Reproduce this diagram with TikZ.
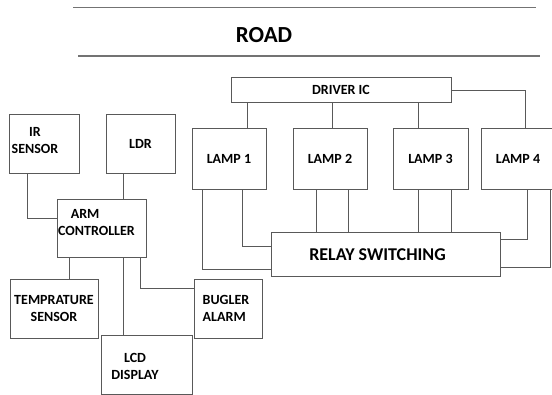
\documentclass[tikz,border=0pt]{standalone}
\usepackage{fontspec}
\setmainfont{Carlito}

\begin{document}
\begin{tikzpicture}[x=1pt, y=-1pt, font=\bfseries\fontsize{14}{17}\selectfont]
	% --- Stili ---
	\tikzset{
		box/.style={draw=black!65, line width=1pt, align=center, inner sep=0pt},
		wire/.style={draw=black!65, line width=1pt},
		roadline/.style={draw=black!55, line width=1.4pt},
		lbl/.style={align=center, inner sep=0pt}
	}
	\useasboundingbox (0,0) rectangle (552,394);
	
	% --- Strada ---
	\coordinate (roadTL) at (73,7.3);
	\coordinate (roadTR) at (536,7.3);
	\coordinate (roadBL) at (78,56);
	\coordinate (roadBR) at (540,56);
	\draw[roadline] (roadTL) -- (roadTR);
	\draw[roadline] (roadBL) -- (roadBR);
	\node[lbl, font=\bfseries\fontsize{23}{28}\selectfont] (road) at (264,35) {ROAD};
	
	% --- Blocchi sensori ---
	\node[box, minimum width=70, minimum height=59, label={[lbl, xshift=-9pt, yshift=3pt]center:IR\\SENSOR}] (ir) at (44,143.5) {};
	\node[box, minimum width=69, minimum height=59] (ldr) at (140.5,143.5) {LDR};
	\node[box, minimum width=89, minimum height=58, label={[lbl, align=left, xshift=-5pt, yshift=5.5pt]center:\hspace*{12.7pt}ARM\\CONTROLLER}] (arm) at (101.5,228) {};
	\node[box, minimum width=88, minimum height=59] (temp) at (54,308.5) {TEMPRATURE\\SENSOR};
	\node[box, minimum width=91, minimum height=59, label={[lbl, xshift=-11.5pt, yshift=-2pt]center:LCD\\DISPLAY}] (lcd) at (146.5,364.5) {};
	\node[box, minimum width=68, minimum height=59, label={[lbl, align=left, xshift=-2pt]center:BUGLER\\ALARM}] (bug) at (228,308.7) {};
	
	% --- Driver e lampade ---
	\node[box, minimum width=220, minimum height=24.5] (drv) at (341,90.2) {DRIVER IC};
	\node[box, minimum width=74, minimum height=61] (lamp1) at (229,158.8) {LAMP 1};
	\node[box, minimum width=74, minimum height=61] (lamp2) at (330,158.8) {LAMP 2};
	\node[box, minimum width=75, minimum height=61] (lamp3) at (430.5,158.8) {LAMP 3};
	\node[box, minimum width=74, minimum height=61] (lamp4) at (518,158.8) {LAMP 4};
	\node[box, minimum width=229, minimum height=44, label={[lbl, xshift=-8pt, font=\bfseries\fontsize{18}{22}\selectfont]center:RELAY SWITCHING}] (relay) at (385.5,254.5) {};
	
	% --- Collegamenti controllore ---
	\draw[wire] ([xshift=-17pt]ir.south) |- ([yshift=10pt]arm.west);
	\draw[wire] ([xshift=-17pt]ldr.south) -- ([xshift=-17pt]ldr.south |- arm.north);
	\draw[wire] ([xshift=15pt]temp.north) -- ([xshift=15pt]temp.north |- arm.south);
	\draw[wire] ([xshift=-23pt]lcd.north) -- ([xshift=-23pt]lcd.north |- arm.south);
	\draw[wire] ([xshift=38.5pt]arm.south) |- ([yshift=20pt]bug.west);
	
	% --- Collegamenti driver ---
	\draw[wire] ([xshift=18pt]lamp1.north) -- ([xshift=18pt]lamp1.north |- drv.south);
	\draw[wire] ([xshift=2pt]lamp2.north) -- ([xshift=2pt]lamp2.north |- drv.south);
	\draw[wire] ([xshift=-12pt]lamp3.north) -- ([xshift=-12pt]lamp3.north |- drv.south);
	\draw[wire] (drv.east) -| ([xshift=7pt]lamp4.north);
	
	% --- Collegamenti relè ---
	\draw[wire] ([xshift=-27pt]lamp1.south) |- ([yshift=-15pt]relay.west);
	\draw[wire] ([xshift=13pt]lamp1.south) |- ([yshift=8pt]relay.west);
	\draw[wire] ([xshift=-14pt]lamp2.south) -- ([xshift=-14pt]lamp2.south |- relay.north);
	\draw[wire] ([xshift=18pt]lamp2.south) -- ([xshift=18pt]lamp2.south |- relay.north);
	\draw[wire] ([xshift=-12pt]lamp3.south) -- ([xshift=-12pt]lamp3.south |- relay.north);
	\draw[wire] ([xshift=20.5pt]lamp3.south) -- ([xshift=20.5pt]lamp3.south |- relay.north);
	\draw[wire] ([xshift=9pt]lamp4.south) |- ([yshift=15pt]relay.east);
	\draw[wire] ([xshift=32pt]lamp4.south) |- ([yshift=-13pt]relay.east);
\end{tikzpicture}
\end{document}
